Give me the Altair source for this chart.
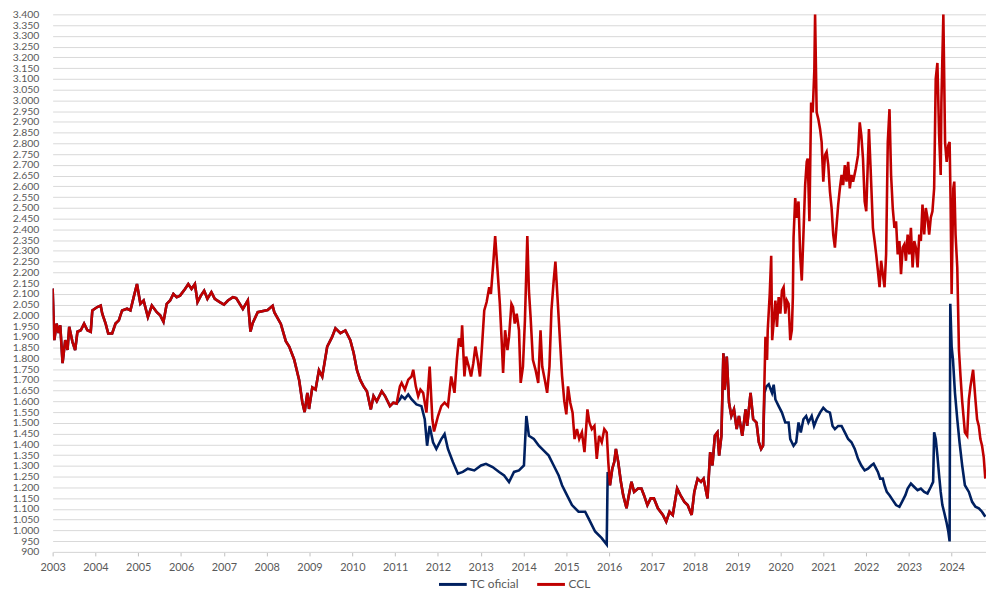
import altair as alt
import pandas as pd

# (decimal year, value) pairs
common_pre = [
    (2003.000, 2125), (2003.039, 1885), (2003.093, 1962), (2003.139, 1918), (2003.178, 1954),
    (2003.232, 1778), (2003.294, 1885), (2003.348, 1839), (2003.387, 1947), (2003.463, 1877),
    (2003.526, 1839), (2003.579, 1924), (2003.658, 1931), (2003.735, 1962), (2003.811, 1931),
    (2003.890, 1924), (2003.927, 2023), (2004.043, 2039), (2004.122, 2046), (2004.159, 2008),
    (2004.238, 1962), (2004.298, 1916), (2004.390, 1916), (2004.469, 1962), (2004.546, 1977),
    (2004.622, 2023), (2004.738, 2031), (2004.817, 2023), (2004.893, 2085), (2004.970, 2146),
    (2005.049, 2054), (2005.125, 2069), (2005.225, 1992), (2005.317, 2046), (2005.433, 2015),
    (2005.512, 2000), (2005.589, 1970), (2005.665, 2054), (2005.744, 2069), (2005.820, 2100),
    (2005.897, 2085), (2005.976, 2092), (2006.092, 2123), (2006.168, 2146), (2006.244, 2123),
    (2006.323, 2146), (2006.384, 2062), (2006.462, 2092), (2006.539, 2115), (2006.615, 2077),
    (2006.708, 2108), (2006.787, 2077), (2006.903, 2062), (2007.002, 2050), (2007.095, 2069),
    (2007.211, 2085), (2007.287, 2080), (2007.443, 2030), (2007.559, 2070), (2007.621, 1925),
    (2007.674, 1965), (2007.790, 2015), (2008.022, 2025), (2008.138, 2045), (2008.177, 2015),
    (2008.330, 1960), (2008.446, 1880), (2008.525, 1855), (2008.641, 1795), (2008.757, 1700),
    (2008.833, 1595), (2008.886, 1550), (2008.949, 1640), (2008.988, 1565), (2009.065, 1665),
    (2009.141, 1655), (2009.220, 1745), (2009.297, 1715), (2009.413, 1855), (2009.528, 1900),
    (2009.605, 1940), (2009.721, 1917), (2009.837, 1930), (2009.952, 1885), (2010.031, 1825),
    (2010.108, 1745), (2010.184, 1700), (2010.263, 1670), (2010.340, 1647), (2010.432, 1563),
    (2010.495, 1625), (2010.571, 1600), (2010.687, 1647), (2010.764, 1625), (2010.879, 1578),
    (2010.958, 1594), (2011.035, 1590),
]

ccl_mid = [
    (2011.111, 1670), (2011.151, 1686), (2011.227, 1655), (2011.306, 1701), (2011.382, 1716),
    (2011.422, 1747), (2011.482, 1670), (2011.538, 1624), (2011.591, 1655), (2011.654, 1640),
    (2011.730, 1548), (2011.806, 1762), (2011.869, 1517), (2011.908, 1460), (2012.001, 1532),
    (2012.078, 1578), (2012.154, 1594), (2012.233, 1578), (2012.309, 1716), (2012.386, 1640),
    (2012.441, 1793), (2012.488, 1893), (2012.541, 1855), (2012.564, 1954), (2012.618, 1716),
    (2012.657, 1808), (2012.720, 1762), (2012.773, 1716), (2012.826, 1778), (2012.873, 1855),
    (2012.928, 1793), (2012.981, 1716), (2013.028, 1855), (2013.081, 2023), (2013.137, 2062),
    (2013.197, 2131), (2013.236, 2100), (2013.290, 2238), (2013.336, 2369), (2013.392, 2207),
    (2013.445, 2054), (2013.491, 1870), (2013.521, 1732), (2013.568, 1931), (2013.623, 1839),
    (2013.660, 1900), (2013.716, 2054), (2013.753, 2039), (2013.793, 1962), (2013.839, 2008),
    (2013.892, 1931), (2013.932, 1686), (2013.985, 1762), (2014.031, 1977), (2014.087, 2369),
    (2014.124, 2115), (2014.163, 1993), (2014.217, 1793), (2014.279, 1747), (2014.342, 1686),
    (2014.395, 1931), (2014.435, 1762), (2014.495, 1701), (2014.550, 1640), (2014.604, 1762),
    (2014.650, 2023), (2014.703, 2162), (2014.743, 2250), (2014.796, 2069), (2014.842, 1910),
    (2014.898, 1720), (2014.951, 1600), (2014.998, 1540), (2015.037, 1670), (2015.090, 1594),
    (2015.144, 1548), (2015.190, 1425), (2015.246, 1471), (2015.299, 1425), (2015.362, 1456),
    (2015.422, 1364), (2015.491, 1563), (2015.538, 1502), (2015.593, 1471), (2015.654, 1486),
    (2015.709, 1333), (2015.762, 1440), (2015.825, 1410), (2015.885, 1471), (2015.941, 1456),
    (2015.978, 1318),
]

tc_mid = [
    (2011.111, 1610), (2011.151, 1625), (2011.227, 1612), (2011.306, 1632), (2011.382, 1610),
    (2011.498, 1586), (2011.614, 1578), (2011.691, 1517), (2011.746, 1394), (2011.806, 1486),
    (2011.885, 1410), (2011.962, 1379), (2012.078, 1425), (2012.154, 1448), (2012.233, 1379),
    (2012.349, 1318), (2012.465, 1264), (2012.581, 1272), (2012.696, 1287), (2012.849, 1279),
    (2013.005, 1302), (2013.121, 1310), (2013.276, 1295), (2013.429, 1272), (2013.545, 1256),
    (2013.660, 1225), (2013.776, 1272), (2013.892, 1279), (2014.008, 1302), (2014.064, 1532),
    (2014.124, 1440), (2014.240, 1425), (2014.356, 1394), (2014.472, 1371), (2014.587, 1348),
    (2014.703, 1302), (2014.819, 1256), (2014.898, 1210), (2014.998, 1170), (2015.130, 1118),
    (2015.283, 1087), (2015.438, 1087), (2015.514, 1057), (2015.670, 995), (2015.825, 964),
    (2015.941, 934), (2015.964, 1272),
]

common_mid = [
    (2016.017, 1210), (2016.071, 1287), (2016.117, 1318), (2016.156, 1379), (2016.210, 1318),
    (2016.272, 1226), (2016.326, 1164), (2016.404, 1103), (2016.458, 1164), (2016.520, 1226),
    (2016.581, 1179), (2016.673, 1195), (2016.752, 1195), (2016.812, 1164), (2016.891, 1118),
    (2016.968, 1149), (2017.044, 1149), (2017.137, 1103), (2017.253, 1072), (2017.331, 1041),
    (2017.408, 1087), (2017.484, 1072), (2017.586, 1195), (2017.663, 1164), (2017.756, 1133),
    (2017.832, 1118), (2017.925, 1072), (2017.987, 1179), (2018.064, 1241), (2018.143, 1226),
    (2018.203, 1241), (2018.295, 1149), (2018.358, 1364), (2018.411, 1302), (2018.467, 1440),
    (2018.527, 1456), (2018.567, 1348), (2018.620, 1440), (2018.666, 1824), (2018.699, 1655),
    (2018.745, 1808), (2018.798, 1594), (2018.852, 1532), (2018.914, 1563), (2018.977, 1471),
    (2019.030, 1532), (2019.107, 1440), (2019.185, 1563), (2019.222, 1486), (2019.301, 1640),
    (2019.362, 1517), (2019.440, 1502), (2019.494, 1410), (2019.547, 1379), (2019.593, 1394),
]

ccl_late = [
    (2019.626, 1701), (2019.649, 1900), (2019.686, 1793), (2019.702, 1931), (2019.749, 2100),
    (2019.783, 2277), (2019.806, 1885), (2019.881, 2069), (2019.918, 1946), (2019.957, 2085),
    (2019.997, 2008), (2020.034, 2115), (2020.073, 2131), (2020.112, 2008), (2020.149, 2069),
    (2020.189, 2054), (2020.228, 1885), (2020.265, 1931), (2020.289, 2085), (2020.305, 2362),
    (2020.344, 2546), (2020.381, 2454), (2020.421, 2530), (2020.460, 2284), (2020.497, 2162),
    (2020.536, 2376), (2020.576, 2606), (2020.613, 2714), (2020.636, 2729), (2020.676, 2438),
    (2020.715, 2990), (2020.752, 2944), (2020.791, 3143), (2020.808, 3400), (2020.845, 2944),
    (2020.884, 2913), (2020.924, 2867), (2020.961, 2806), (2021.000, 2622), (2021.039, 2745),
    (2021.077, 2760), (2021.116, 2699), (2021.155, 2576), (2021.194, 2499), (2021.232, 2376),
    (2021.271, 2315), (2021.311, 2422), (2021.348, 2515), (2021.387, 2591), (2021.427, 2653),
    (2021.464, 2606), (2021.503, 2699), (2021.543, 2622), (2021.580, 2714), (2021.619, 2591),
    (2021.658, 2653), (2021.696, 2622), (2021.759, 2683), (2021.811, 2745), (2021.851, 2898),
    (2021.888, 2837), (2021.927, 2729), (2021.966, 2530), (2022.003, 2484), (2022.066, 2867),
    (2022.105, 2683), (2022.159, 2407), (2022.198, 2346), (2022.235, 2284), (2022.275, 2208),
    (2022.314, 2131), (2022.351, 2254), (2022.390, 2192), (2022.430, 2131), (2022.467, 2284),
    (2022.506, 2806), (2022.546, 2959), (2022.583, 2653), (2022.622, 2499), (2022.662, 2407),
    (2022.699, 2438), (2022.738, 2284), (2022.778, 2346), (2022.815, 2192), (2022.854, 2315),
    (2022.893, 2330), (2022.930, 2254), (2022.970, 2376), (2023.009, 2284), (2023.046, 2407),
    (2023.086, 2223), (2023.125, 2346), (2023.162, 2315), (2023.202, 2223), (2023.241, 2376),
    (2023.278, 2346), (2023.317, 2515), (2023.357, 2376), (2023.394, 2499), (2023.433, 2454),
    (2023.473, 2376), (2023.510, 2454), (2023.549, 2484), (2023.589, 2591), (2023.626, 3100),
    (2023.665, 3174), (2023.705, 2837), (2023.742, 2653), (2023.758, 2990), (2023.804, 3400),
    (2023.844, 2806), (2023.881, 2714), (2023.920, 2791), (2023.950, 2806), (2023.973, 2530),
    (2023.997, 2100), (2024.036, 2591), (2024.059, 2622), (2024.089, 2376), (2024.129, 2223),
    (2024.168, 1839), (2024.205, 1716), (2024.244, 1600), (2024.307, 1456), (2024.360, 1440),
    (2024.400, 1609), (2024.437, 1670), (2024.499, 1747), (2024.553, 1609), (2024.592, 1517),
    (2024.632, 1486), (2024.669, 1425), (2024.708, 1394), (2024.747, 1340), (2024.784, 1241),
]

tc_late = [
    (2019.626, 1640), (2019.672, 1670), (2019.725, 1680), (2019.802, 1640), (2019.841, 1678),
    (2019.881, 1609), (2019.957, 1578), (2020.034, 1548), (2020.112, 1502), (2020.189, 1502),
    (2020.228, 1425), (2020.305, 1394), (2020.367, 1410), (2020.421, 1502), (2020.474, 1456),
    (2020.536, 1517), (2020.599, 1532), (2020.652, 1502), (2020.729, 1532), (2020.784, 1486),
    (2020.845, 1517), (2020.924, 1548), (2021.000, 1570), (2021.077, 1555), (2021.155, 1548),
    (2021.216, 1486), (2021.271, 1471), (2021.348, 1486), (2021.427, 1486), (2021.503, 1456),
    (2021.580, 1425), (2021.658, 1410), (2021.735, 1379), (2021.811, 1333), (2021.888, 1302),
    (2021.966, 1279), (2022.043, 1287), (2022.119, 1302), (2022.175, 1310), (2022.235, 1287),
    (2022.275, 1272), (2022.328, 1241), (2022.390, 1241), (2022.430, 1210), (2022.483, 1179),
    (2022.546, 1164), (2022.622, 1141), (2022.699, 1118), (2022.778, 1110), (2022.838, 1133),
    (2022.917, 1164), (2022.970, 1195), (2023.046, 1218), (2023.125, 1202), (2023.202, 1187),
    (2023.278, 1195), (2023.357, 1179), (2023.433, 1172), (2023.510, 1202), (2023.565, 1226),
    (2023.589, 1456), (2023.626, 1425), (2023.665, 1348), (2023.705, 1256), (2023.742, 1179),
    (2023.781, 1118), (2023.820, 1087), (2023.874, 1041), (2023.920, 995), (2023.950, 949),
    (2023.966, 2054), (2023.997, 1855), (2024.029, 1793), (2024.075, 1640), (2024.129, 1517),
    (2024.182, 1410), (2024.244, 1302), (2024.307, 1210), (2024.400, 1179), (2024.476, 1133),
    (2024.553, 1110), (2024.632, 1103), (2024.708, 1087), (2024.784, 1064),
]

series_names = ["TC oficial", "CCL"]
series_colors = ["#002060", "#C00000"]
year_ticks = list(range(2003, 2025))
value_ticks = list(range(900, 3401, 50))


def frame(points, name):
    return pd.DataFrame({"year": [p[0] for p in points],
                         "value": [p[1] for p in points],
                         "series": name})


df = pd.concat([
    frame(common_pre + tc_mid + common_mid + tc_late, "TC oficial"),
    frame(common_pre + ccl_mid + common_mid + ccl_late, "CCL"),
], ignore_index=True)

FONT = "Lato"
GREY = "#595959"

x_enc = alt.X(
    "year:Q",
    scale=alt.Scale(domain=[2003, 2024.8], nice=False, zero=False),
    axis=alt.Axis(values=year_ticks, format="d", grid=False, tickSize=4,
                  tickColor="#bfbfbf", domainColor="#d9d9d9", labelPadding=6,
                  labelFontSize=11, labelColor=GREY, labelFont=FONT,
                  labelFlush=False, labelOverlap=False, title=None),
)
y_enc = alt.Y(
    "value:Q",
    scale=alt.Scale(domain=[900, 3400], nice=False, zero=False),
    axis=alt.Axis(values=value_ticks,
                  labelExpr="replace(format(datum.value, ','), ',', '.')",
                  grid=True, gridColor="#d9d9d9", gridWidth=1, ticks=False,
                  domain=False, labelPadding=14, labelFontSize=10.5,
                  labelColor=GREY, labelFont=FONT, labelFlush=False,
                  labelOverlap=False, title=None),
)
color_enc = alt.Color(
    "series:N",
    scale=alt.Scale(domain=series_names, range=series_colors),
    legend=alt.Legend(title=None, orient="none", legendX=388, legendY=559,
                      direction="horizontal", symbolType="stroke",
                      symbolSize=784, symbolStrokeWidth=3, labelFontSize=12,
                      labelColor=GREY, labelFont=FONT, columnPadding=12,
                      labelOffset=2, padding=0),
)

base = alt.Chart(df).mark_line(strokeWidth=2.6, clip=True).encode(
    x=x_enc, y=y_enc, color=color_enc, order="year:Q"
)

tc_line = base.transform_filter(alt.datum.series == "TC oficial")
ccl_line = base.transform_filter(alt.datum.series == "CCL")

chart = alt.layer(tc_line, ccl_line).properties(
    width=941, height=542,
    autosize=alt.AutoSizeParams(type="none"),
    padding={"left": 45, "top": 4, "right": 0, "bottom": 38},
    background="white",
).configure_view(stroke=None)

chart.save("out.html", embed_options={"renderer": "svg", "actions": False})
